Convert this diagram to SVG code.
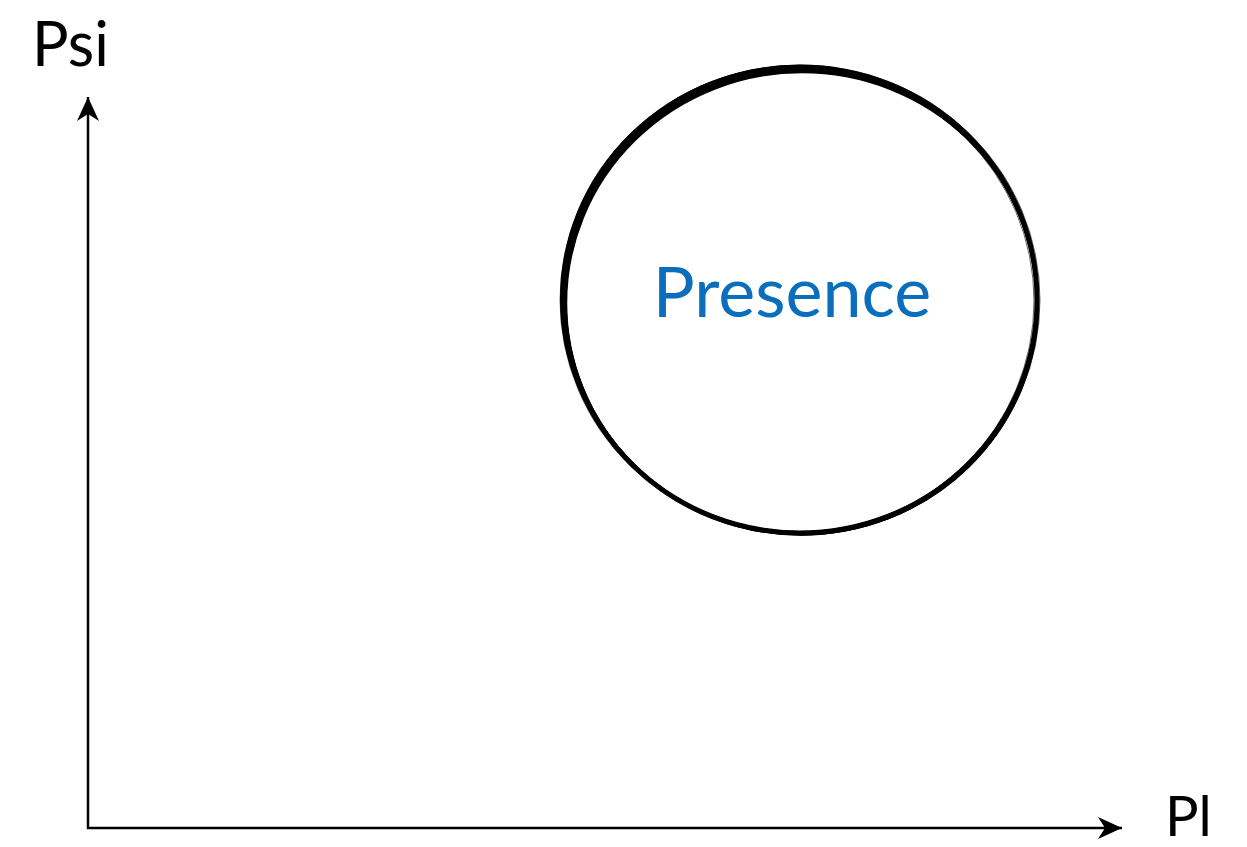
<svg xmlns="http://www.w3.org/2000/svg" width="1247" height="847" viewBox="0 0 1247 847">
<style>
.axis{fill:none;stroke:#000;stroke-width:2.5}
.lbl{font-family:Lato,"Open Sans",sans-serif;fill:#000}
.brush{fill:none;stroke:#000}
</style>
<defs>
<marker id="ah" markerWidth="26" markerHeight="24" refX="24" refY="12" orient="auto" markerUnits="userSpaceOnUse" viewBox="0 0 26 24">
<path d="M0,1 L24,12 L0,23 L7,12 Z" fill="#000"/>
</marker>
</defs>
<rect width="1247" height="847" fill="#fff"/>
<g id="connectors">
<path class="axis" d="M88,829 L88,97" marker-end="url(#ah)"/>
<path class="axis" d="M87,828 L1122,828" marker-end="url(#ah)"/>
</g>
<g id="presence">
<ellipse class="brush" cx="800" cy="300" rx="237" ry="233" stroke-width="5"/>
<ellipse class="brush" cx="801" cy="302" rx="236" ry="232" stroke-width="3.5"/>
<ellipse class="brush" cx="799" cy="299" rx="238" ry="233" stroke-width="2"/>
<ellipse class="brush" cx="802" cy="303" rx="236" ry="231" stroke-width="2.5"/>
<ellipse class="brush" cx="800" cy="300" rx="240" ry="235" stroke-width="1" stroke-opacity="0.6"/>
<ellipse class="brush" cx="800" cy="301" rx="234" ry="231" stroke-width="1" stroke-opacity="0.6"/>
<text x="792" y="317" text-anchor="middle" font-family="Lato,'Open Sans',sans-serif" font-size="70" fill="#0A6EBD">Presence</text>
</g>
<g id="psi"><text class="lbl" x="32" y="66" font-size="61">Psi</text></g>
<g id="pl"><text class="lbl" x="1165" y="836" font-size="56">Pl</text></g>
</svg>
